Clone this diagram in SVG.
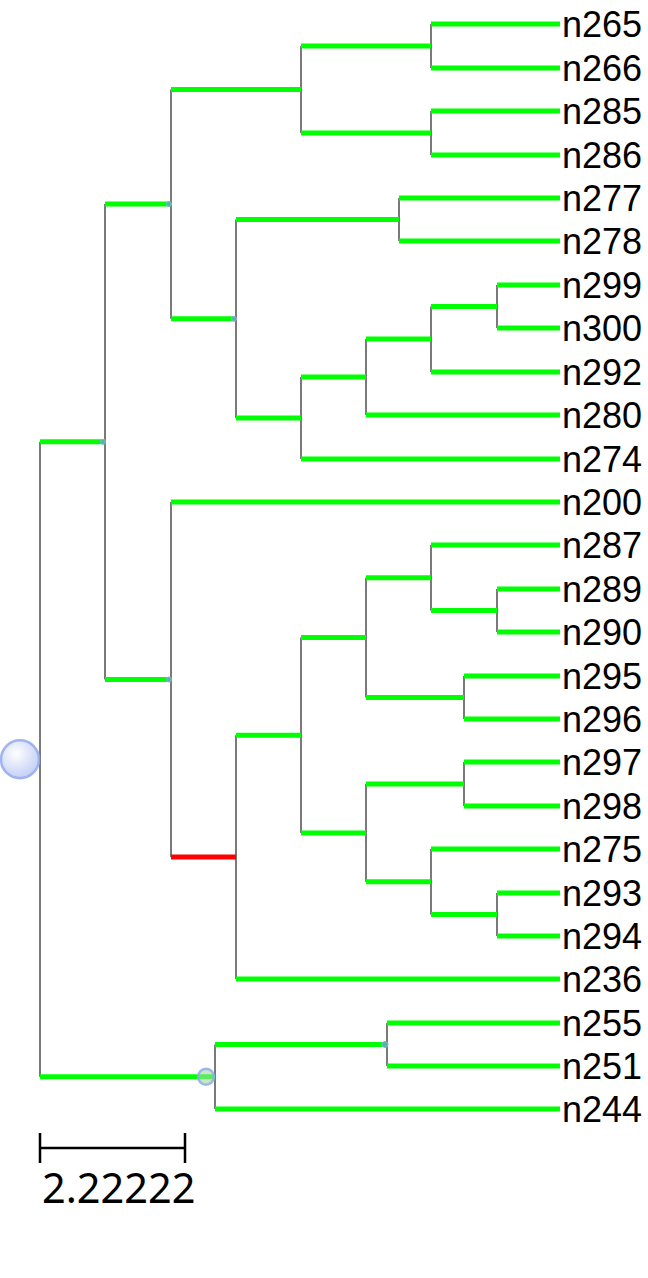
<svg xmlns="http://www.w3.org/2000/svg" width="648" height="1278" viewBox="0 0 648 1278">
<defs>
<radialGradient id="bub" cx="0.4" cy="0.35" r="0.65">
<stop offset="0" stop-color="#ffffff"/>
<stop offset="1" stop-color="#c3cff5"/>
</radialGradient>
<style>
.v{stroke:#7a7a7a;stroke-width:2;fill:none}
.g{stroke:#00ff00;stroke-width:5;fill:none}
.r{stroke:#ff0000;stroke-width:5;fill:none}
.lab{font-family:"Liberation Sans",Arial,sans-serif;font-size:36px;fill:#000}
.dot{fill:#6fa0d8;fill-opacity:0.7;stroke:#90a8ee;stroke-width:1}
.big{fill:url(#bub);stroke:#93a9ee;stroke-width:2.5;stroke-opacity:0.85}
.sc{stroke:#000;stroke-width:2.5;fill:none}
</style>
</defs>
<rect width="648" height="1278" fill="#fff"/>
<g id="connectors">
<path class="v" d="M40,441.8V1076.8 M105,204V679.5 M171,89.5V318.8 M171,502V857 M301,46V133 M431,24V68 M431,111V155 M236,219.5V418 M399,198V241 M301,377V459 M366,339V415 M431,306.5V372 M497,285V328 M236,735.3V979 M301,637.6V832.9 M366,577.8V697.5 M431,545V610.5 M497,589V632 M464,676V719 M366,784V881.8 M464,762V806 M431,849V914.5 M497,893V936 M215,1044.5V1109 M387,1023V1066"/>
<path class="g" d="M40,441.8H105 M40,1076.8H215 M105,204H171 M105,679.5H171 M171,89.5H301 M171,318.8H236 M301,46H431 M301,133H431 M236,219.5H399 M236,418H301 M301,377H366 M366,339H431 M431,306.5H497 M171,502H560 M301,637.6H366 M301,832.9H366 M236,735.3H301 M236,979H560 M366,577.8H431 M431,610.5H497 M366,697.5H464 M366,784H464 M366,881.8H431 M431,914.5H497 M215,1044.5H387 M215,1109H560"/>
<path class="g" d="M431,24H560 M431,68H560 M431,111H560 M431,155H560 M399,198H560 M399,241H560 M497,285H560 M497,328H560 M431,372H560 M366,415H560 M301,459H560 M431,545H560 M497,589H560 M497,632H560 M464,676H560 M464,719H560 M464,762H560 M464,806H560 M431,849H560 M497,893H560 M497,936H560 M387,1023H560 M387,1066H560"/>
<path class="r" d="M171,857H236"/>
</g>
<g id="markers">
<circle class="big" cx="20" cy="759.3" r="19"/>
<circle class="big" cx="206" cy="1076.8" r="8" style="fill:#9fd8a0;fill-opacity:0.6"/>
<circle class="dot" cx="103" cy="441.8" r="2.5"/>
<circle class="dot" cx="169" cy="204" r="2.5"/>
<circle class="dot" cx="169" cy="679.5" r="2.5"/>
<circle class="dot" cx="234" cy="318.8" r="2.5"/>
<circle class="dot" cx="385" cy="1044.5" r="3"/>
</g>
<g id="leaves">
<text class="lab" x="562" y="37">n265</text>
<text class="lab" x="562" y="81">n266</text>
<text class="lab" x="562" y="124">n285</text>
<text class="lab" x="562" y="168">n286</text>
<text class="lab" x="562" y="211">n277</text>
<text class="lab" x="562" y="254">n278</text>
<text class="lab" x="562" y="298">n299</text>
<text class="lab" x="562" y="341">n300</text>
<text class="lab" x="562" y="385">n292</text>
<text class="lab" x="562" y="428">n280</text>
<text class="lab" x="562" y="472">n274</text>
<text class="lab" x="562" y="515">n200</text>
<text class="lab" x="562" y="558">n287</text>
<text class="lab" x="562" y="602">n289</text>
<text class="lab" x="562" y="645">n290</text>
<text class="lab" x="562" y="689">n295</text>
<text class="lab" x="562" y="732">n296</text>
<text class="lab" x="562" y="775">n297</text>
<text class="lab" x="562" y="819">n298</text>
<text class="lab" x="562" y="862">n275</text>
<text class="lab" x="562" y="906">n293</text>
<text class="lab" x="562" y="949">n294</text>
<text class="lab" x="562" y="992">n236</text>
<text class="lab" x="562" y="1036">n255</text>
<text class="lab" x="562" y="1079">n251</text>
<text class="lab" x="562" y="1122">n244</text>
</g>
<g id="scale">
<path class="sc" d="M40,1148H185 M40,1133V1163 M185,1133V1163"/>
<text x="42" y="1203" style="font-family:'Noto Sans',sans-serif;font-size:41.5px;fill:#000">2.22222</text>
</g>
</svg>
